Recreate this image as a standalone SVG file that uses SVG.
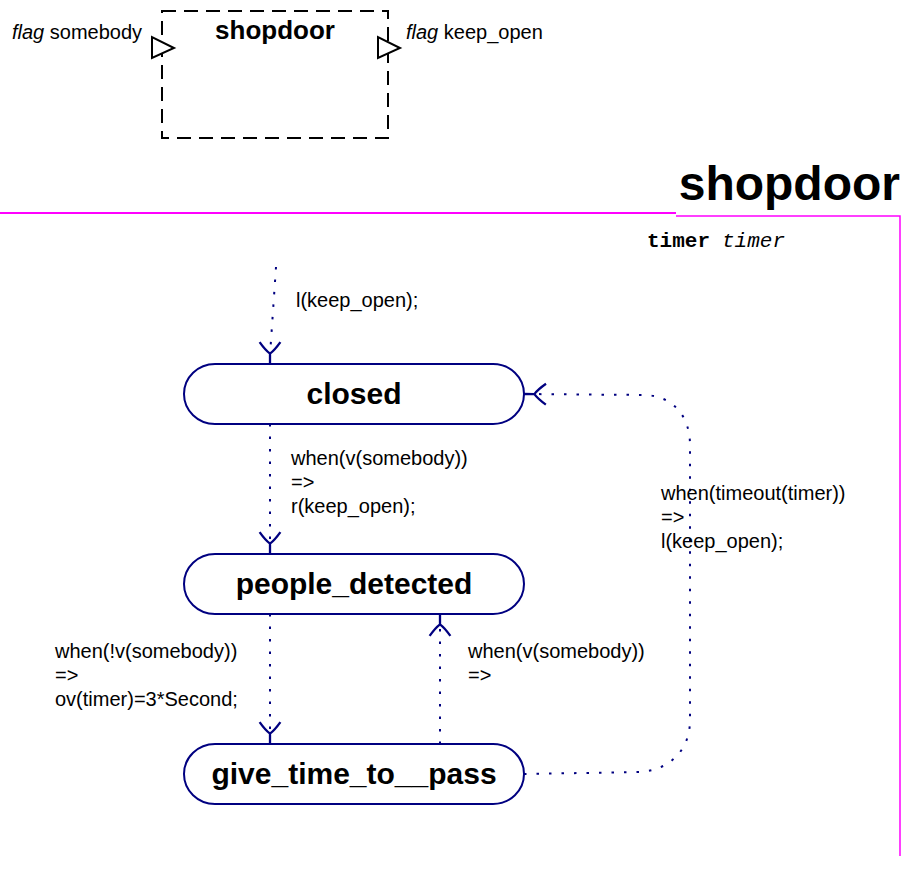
<svg xmlns="http://www.w3.org/2000/svg" width="903" height="889" viewBox="0 0 903 889">
<style>
text{font-family:"Liberation Sans",Arial,sans-serif;fill:#000}
.lbl{font-size:20px}
.st{fill:#fff;stroke:#000080;stroke-width:2}
.sn{font-size:30px;font-weight:bold;text-anchor:middle}
.cn{fill:none;stroke:#000080;stroke-width:2;stroke-dasharray:2.5 10}
.port{fill:#fff;stroke:#000;stroke-width:2}
.mono{font-family:"Liberation Mono","Courier New",monospace;font-size:21px}
</style>
<defs>
<marker id="ah" markerUnits="userSpaceOnUse" markerWidth="30" markerHeight="30" viewBox="-24 -13 26 26" refX="0" refY="0" orient="auto" overflow="visible">
<path d="M-19,-9 Q-12,-4 -9,0 Q-12,4 -19,9 M-9,0 L0,0" fill="none" stroke="#000080" stroke-width="2" stroke-dasharray="none"/>
</marker>
</defs>
<g id="interface">
<rect x="162" y="11" width="226" height="127" fill="none" stroke="#000" stroke-width="2" stroke-dasharray="14 8"/>
<text x="275" y="39" font-size="26" font-weight="bold" text-anchor="middle">shopdoor</text>
<polygon class="port" points="152,37 152,58 174,48"/>
<polygon class="port" points="378,37 378,58 400,48"/>
<text class="lbl" x="12" y="39"><tspan font-style="italic">flag</tspan> somebody</text>
<text class="lbl" x="406" y="39"><tspan font-style="italic">flag</tspan> keep_open</text>
</g>
<g id="frame">
<text x="900" y="200" font-size="48" font-weight="bold" text-anchor="end">shopdoor</text>
<line x1="0" y1="213" x2="676" y2="213" stroke="#ff00ff" stroke-width="2"/>
<polyline points="676,216 900,216 900,856" fill="none" stroke="#ff00ff" stroke-width="1.5"/>
<text class="mono" x="647" y="247"><tspan font-weight="bold">timer</tspan><tspan x="722" font-style="italic">timer</tspan></text>
</g>
<g id="connectors">
<path class="cn" d="M276,267 L270,355 L270,364" marker-end="url(#ah)"/>
<path class="cn" d="M270,424 L270,554" marker-end="url(#ah)"/>
<path class="cn" d="M270,614 L270,744" marker-end="url(#ah)"/>
<path class="cn" d="M440,744 L440,614" marker-end="url(#ah)"/>
<path class="cn" d="M524,774 L640,772 C670,770 690,750 690,720 L690,445 C690,415 672,396 645,395 L524,394" marker-end="url(#ah)"/>
<text class="lbl" x="296" y="307">l(keep_open);</text>
<text class="lbl" x="291" y="465">when(v(somebody))</text>
<text class="lbl" x="291" y="489">=&gt;</text>
<text class="lbl" x="291" y="513">r(keep_open);</text>
<text class="lbl" x="55" y="658">when(!v(somebody))</text>
<text class="lbl" x="55" y="682">=&gt;</text>
<text class="lbl" x="55" y="706">ov(timer)=3*Second;</text>
<text class="lbl" x="468" y="658">when(v(somebody))</text>
<text class="lbl" x="468" y="682">=&gt;</text>
<text class="lbl" x="661" y="500">when(timeout(timer))</text>
<text class="lbl" x="661" y="524">=&gt;</text>
<text class="lbl" x="661" y="548">l(keep_open);</text>
</g>
<g id="closed">
<path class="st" d="M215,364 H493 A31,30 0 0 1 493,424 H215 A31,30 0 0 1 215,364 Z"/>
<text class="sn" x="354" y="404">closed</text>
</g>
<g id="people_detected">
<path class="st" d="M215,554 H493 A31,30 0 0 1 493,614 H215 A31,30 0 0 1 215,554 Z"/>
<text class="sn" x="354" y="594">people_detected</text>
</g>
<g id="give_time_to__pass">
<path class="st" d="M215,744 H493 A31,30 0 0 1 493,804 H215 A31,30 0 0 1 215,744 Z"/>
<text class="sn" x="354" y="784">give_time_to__pass</text>
</g>
</svg>
